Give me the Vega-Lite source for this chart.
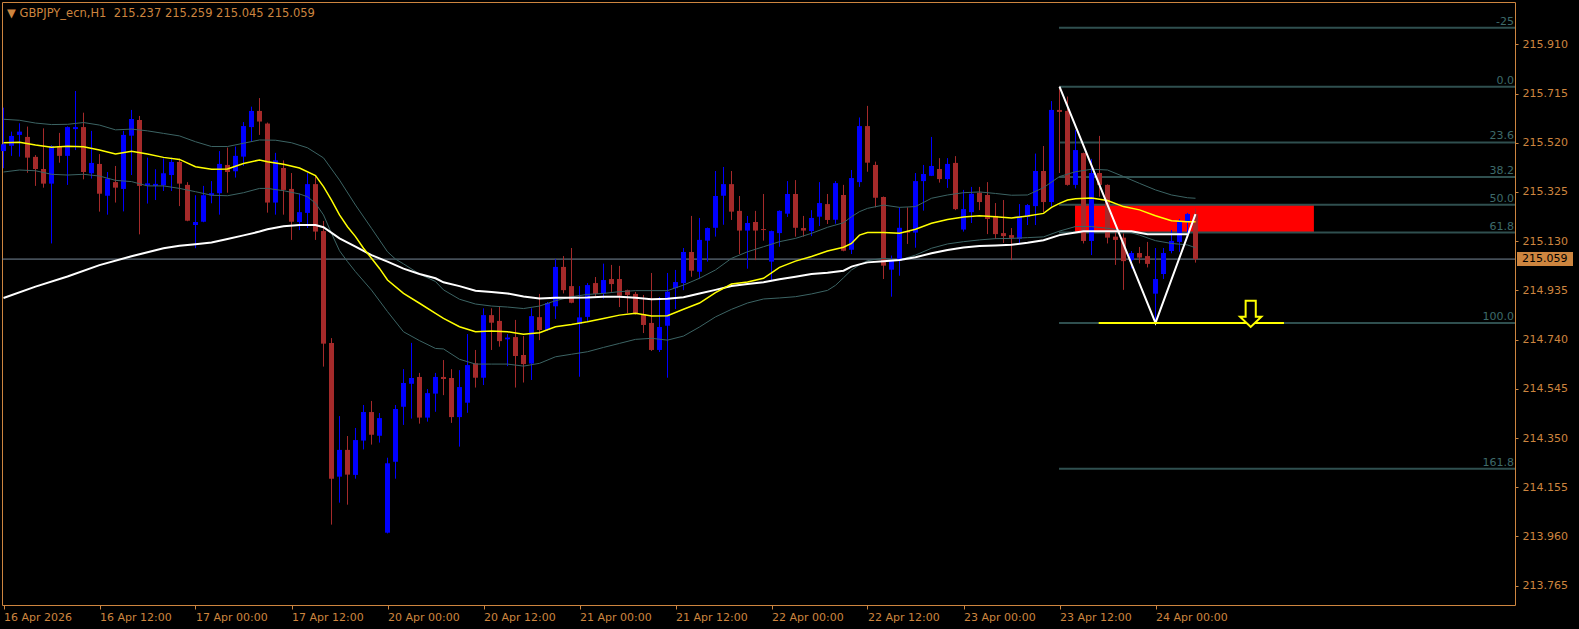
{
  "$schema": "https://vega.github.io/schema/vega-lite/v6.json",
  "width": 1513,
  "height": 603,
  "autosize": "none",
  "padding": {"left": 2, "top": 2, "right": 64, "bottom": 24},
  "background": "#000000",
  "config": {
    "font": "DejaVu Sans",
    "view": {"stroke": "#CD853F", "strokeWidth": 1}
  },
  "resolve": {"axis": {"x": "independent", "y": "independent"}},
  "datasets": {
    "candles": [
      {"i":0,"o":215.487,"h":215.659,"l":215.419,"c":215.514},
      {"i":1,"o":215.508,"h":215.564,"l":215.468,"c":215.547},
      {"i":2,"o":215.551,"h":215.597,"l":215.465,"c":215.564},
      {"i":3,"o":215.543,"h":215.584,"l":215.401,"c":215.461},
      {"i":4,"o":215.464,"h":215.471,"l":215.349,"c":215.416},
      {"i":5,"o":215.416,"h":215.577,"l":215.342,"c":215.358},
      {"i":6,"o":215.358,"h":215.510,"l":215.121,"c":215.507},
      {"i":7,"o":215.507,"h":215.559,"l":215.441,"c":215.468},
      {"i":8,"o":215.468,"h":215.585,"l":215.353,"c":215.582},
      {"i":9,"o":215.574,"h":215.725,"l":215.491,"c":215.582},
      {"i":10,"o":215.582,"h":215.639,"l":215.375,"c":215.404},
      {"i":11,"o":215.399,"h":215.567,"l":215.378,"c":215.440},
      {"i":12,"o":215.436,"h":215.475,"l":215.247,"c":215.318},
      {"i":13,"o":215.310,"h":215.404,"l":215.235,"c":215.378},
      {"i":14,"o":215.364,"h":215.428,"l":215.283,"c":215.342},
      {"i":15,"o":215.337,"h":215.567,"l":215.248,"c":215.551},
      {"i":16,"o":215.548,"h":215.650,"l":215.392,"c":215.614},
      {"i":17,"o":215.610,"h":215.626,"l":215.157,"c":215.349},
      {"i":18,"o":215.351,"h":215.461,"l":215.279,"c":215.359},
      {"i":19,"o":215.349,"h":215.415,"l":215.293,"c":215.357},
      {"i":20,"o":215.351,"h":215.458,"l":215.329,"c":215.399},
      {"i":21,"o":215.392,"h":215.461,"l":215.329,"c":215.444},
      {"i":22,"o":215.444,"h":215.457,"l":215.269,"c":215.358},
      {"i":23,"o":215.353,"h":215.364,"l":215.209,"c":215.211},
      {"i":24,"o":215.194,"h":215.312,"l":215.102,"c":215.206},
      {"i":25,"o":215.207,"h":215.349,"l":215.205,"c":215.312},
      {"i":26,"o":215.312,"h":215.368,"l":215.280,"c":215.320},
      {"i":27,"o":215.320,"h":215.487,"l":215.235,"c":215.436},
      {"i":28,"o":215.432,"h":215.501,"l":215.322,"c":215.404},
      {"i":29,"o":215.407,"h":215.505,"l":215.382,"c":215.468},
      {"i":30,"o":215.465,"h":215.602,"l":215.428,"c":215.586},
      {"i":31,"o":215.582,"h":215.663,"l":215.523,"c":215.646},
      {"i":32,"o":215.646,"h":215.697,"l":215.551,"c":215.604},
      {"i":33,"o":215.596,"h":215.600,"l":215.243,"c":215.283},
      {"i":34,"o":215.283,"h":215.480,"l":215.235,"c":215.450},
      {"i":35,"o":215.420,"h":215.450,"l":215.235,"c":215.333},
      {"i":36,"o":215.337,"h":215.400,"l":215.135,"c":215.207},
      {"i":37,"o":215.206,"h":215.319,"l":215.174,"c":215.245},
      {"i":38,"o":215.242,"h":215.400,"l":215.182,"c":215.356},
      {"i":39,"o":215.356,"h":215.390,"l":215.135,"c":215.168},
      {"i":40,"o":215.170,"h":215.210,"l":214.633,"c":214.724},
      {"i":41,"o":214.727,"h":214.746,"l":214.007,"c":214.189},
      {"i":42,"o":214.197,"h":214.437,"l":214.094,"c":214.303},
      {"i":43,"o":214.303,"h":214.358,"l":214.086,"c":214.205},
      {"i":44,"o":214.204,"h":214.390,"l":214.189,"c":214.342},
      {"i":45,"o":214.340,"h":214.481,"l":214.305,"c":214.453},
      {"i":46,"o":214.453,"h":214.497,"l":214.324,"c":214.363},
      {"i":47,"o":214.359,"h":214.449,"l":214.332,"c":214.429},
      {"i":48,"o":213.975,"h":214.272,"l":213.972,"c":214.250},
      {"i":49,"o":214.256,"h":214.481,"l":214.189,"c":214.465},
      {"i":50,"o":214.474,"h":214.623,"l":214.402,"c":214.568},
      {"i":51,"o":214.565,"h":214.727,"l":214.427,"c":214.588},
      {"i":52,"o":214.592,"h":214.608,"l":214.407,"c":214.431},
      {"i":53,"o":214.431,"h":214.544,"l":214.415,"c":214.528},
      {"i":54,"o":214.526,"h":214.608,"l":214.454,"c":214.592},
      {"i":55,"o":214.592,"h":214.659,"l":214.520,"c":214.584},
      {"i":56,"o":214.588,"h":214.623,"l":214.410,"c":214.433},
      {"i":57,"o":214.433,"h":214.619,"l":214.316,"c":214.552},
      {"i":58,"o":214.490,"h":214.762,"l":214.450,"c":214.639},
      {"i":59,"o":214.646,"h":214.699,"l":214.550,"c":214.589},
      {"i":60,"o":214.589,"h":214.864,"l":214.560,"c":214.837},
      {"i":61,"o":214.837,"h":214.864,"l":214.699,"c":214.807},
      {"i":62,"o":214.814,"h":214.873,"l":214.712,"c":214.734},
      {"i":63,"o":214.741,"h":214.762,"l":214.635,"c":214.748},
      {"i":64,"o":214.750,"h":214.818,"l":214.550,"c":214.675},
      {"i":65,"o":214.679,"h":214.754,"l":214.570,"c":214.643},
      {"i":66,"o":214.645,"h":214.864,"l":214.580,"c":214.833},
      {"i":67,"o":214.829,"h":214.921,"l":214.738,"c":214.778},
      {"i":68,"o":214.778,"h":214.889,"l":214.775,"c":214.885},
      {"i":69,"o":214.872,"h":215.059,"l":214.822,"c":215.028},
      {"i":70,"o":215.028,"h":215.071,"l":214.923,"c":214.936},
      {"i":71,"o":214.952,"h":215.103,"l":214.884,"c":214.886},
      {"i":72,"o":214.802,"h":214.952,"l":214.593,"c":214.828},
      {"i":73,"o":214.830,"h":214.964,"l":214.810,"c":214.956},
      {"i":74,"o":214.964,"h":214.988,"l":214.913,"c":214.921},
      {"i":75,"o":214.923,"h":215.041,"l":214.902,"c":214.976},
      {"i":76,"o":214.980,"h":215.036,"l":214.929,"c":214.960},
      {"i":77,"o":214.980,"h":215.032,"l":214.869,"c":214.914},
      {"i":78,"o":214.936,"h":214.938,"l":214.844,"c":214.917},
      {"i":79,"o":214.921,"h":214.929,"l":214.840,"c":214.841},
      {"i":80,"o":214.841,"h":214.917,"l":214.766,"c":214.798},
      {"i":81,"o":214.806,"h":215.004,"l":214.695,"c":214.699},
      {"i":82,"o":214.699,"h":214.909,"l":214.691,"c":214.790},
      {"i":83,"o":214.795,"h":215.004,"l":214.589,"c":214.930},
      {"i":84,"o":214.944,"h":215.016,"l":214.861,"c":214.968},
      {"i":85,"o":214.964,"h":215.103,"l":214.936,"c":215.087},
      {"i":86,"o":215.087,"h":215.230,"l":214.989,"c":215.013},
      {"i":87,"o":215.009,"h":215.222,"l":214.981,"c":215.135},
      {"i":88,"o":215.132,"h":215.184,"l":215.049,"c":215.182},
      {"i":89,"o":215.183,"h":215.408,"l":215.148,"c":215.309},
      {"i":90,"o":215.310,"h":215.424,"l":215.195,"c":215.356},
      {"i":91,"o":215.356,"h":215.408,"l":215.214,"c":215.247},
      {"i":92,"o":215.250,"h":215.309,"l":215.079,"c":215.172},
      {"i":93,"o":215.172,"h":215.230,"l":215.021,"c":215.202},
      {"i":94,"o":215.206,"h":215.250,"l":215.055,"c":215.172},
      {"i":95,"o":215.178,"h":215.317,"l":215.132,"c":215.174},
      {"i":96,"o":215.049,"h":215.172,"l":214.976,"c":215.170},
      {"i":97,"o":215.162,"h":215.252,"l":215.108,"c":215.250},
      {"i":98,"o":215.239,"h":215.368,"l":215.226,"c":215.317},
      {"i":99,"o":215.317,"h":215.372,"l":215.148,"c":215.183},
      {"i":100,"o":215.182,"h":215.230,"l":215.148,"c":215.172},
      {"i":101,"o":215.170,"h":215.253,"l":215.150,"c":215.222},
      {"i":102,"o":215.227,"h":215.364,"l":215.190,"c":215.281},
      {"i":103,"o":215.277,"h":215.317,"l":215.198,"c":215.214},
      {"i":104,"o":215.215,"h":215.368,"l":215.199,"c":215.360},
      {"i":105,"o":215.313,"h":215.353,"l":215.090,"c":215.092},
      {"i":106,"o":215.096,"h":215.412,"l":215.079,"c":215.380},
      {"i":107,"o":215.364,"h":215.620,"l":215.345,"c":215.586},
      {"i":108,"o":215.586,"h":215.666,"l":215.405,"c":215.441},
      {"i":109,"o":215.432,"h":215.445,"l":215.264,"c":215.302},
      {"i":110,"o":215.305,"h":215.307,"l":214.980,"c":215.033},
      {"i":111,"o":215.017,"h":215.073,"l":214.910,"c":215.055},
      {"i":112,"o":215.053,"h":215.264,"l":214.993,"c":215.183},
      {"i":113,"o":215.170,"h":215.264,"l":215.119,"c":215.164},
      {"i":114,"o":215.164,"h":215.400,"l":215.104,"c":215.368},
      {"i":115,"o":215.368,"h":215.432,"l":215.251,"c":215.396},
      {"i":116,"o":215.389,"h":215.543,"l":215.388,"c":215.428},
      {"i":117,"o":215.416,"h":215.459,"l":215.362,"c":215.376},
      {"i":118,"o":215.376,"h":215.459,"l":215.341,"c":215.436},
      {"i":119,"o":215.440,"h":215.467,"l":215.253,"c":215.257},
      {"i":120,"o":215.176,"h":215.333,"l":215.168,"c":215.257},
      {"i":121,"o":215.245,"h":215.345,"l":215.202,"c":215.318},
      {"i":122,"o":215.322,"h":215.345,"l":215.253,"c":215.285},
      {"i":123,"o":215.313,"h":215.364,"l":215.158,"c":215.218},
      {"i":124,"o":215.230,"h":215.281,"l":215.139,"c":215.158},
      {"i":125,"o":215.162,"h":215.293,"l":215.123,"c":215.150},
      {"i":126,"o":215.154,"h":215.182,"l":215.055,"c":215.143},
      {"i":127,"o":215.139,"h":215.277,"l":215.119,"c":215.230},
      {"i":128,"o":215.226,"h":215.277,"l":215.194,"c":215.273},
      {"i":129,"o":215.269,"h":215.477,"l":215.194,"c":215.408},
      {"i":130,"o":215.408,"h":215.507,"l":215.245,"c":215.285},
      {"i":131,"o":215.285,"h":215.685,"l":215.267,"c":215.650},
      {"i":132,"o":215.650,"h":215.742,"l":215.400,"c":215.642},
      {"i":133,"o":215.646,"h":215.703,"l":215.350,"c":215.353},
      {"i":134,"o":215.353,"h":215.570,"l":215.339,"c":215.491},
      {"i":135,"o":215.479,"h":215.481,"l":215.121,"c":215.131},
      {"i":136,"o":215.131,"h":215.456,"l":215.075,"c":215.400},
      {"i":137,"o":215.400,"h":215.547,"l":215.306,"c":215.353},
      {"i":138,"o":215.353,"h":215.355,"l":215.121,"c":215.144},
      {"i":139,"o":215.148,"h":215.174,"l":215.036,"c":215.135},
      {"i":140,"o":215.144,"h":215.161,"l":214.937,"c":215.051},
      {"i":141,"o":215.055,"h":215.091,"l":215.022,"c":215.083},
      {"i":142,"o":215.083,"h":215.107,"l":215.042,"c":215.065},
      {"i":143,"o":215.071,"h":215.127,"l":215.026,"c":215.040},
      {"i":144,"o":214.922,"h":215.103,"l":214.806,"c":214.980},
      {"i":145,"o":215.000,"h":215.103,"l":214.980,"c":215.083},
      {"i":146,"o":215.091,"h":215.174,"l":215.082,"c":215.131},
      {"i":147,"o":215.127,"h":215.218,"l":215.088,"c":215.207},
      {"i":148,"o":215.207,"h":215.242,"l":215.161,"c":215.238},
      {"i":149,"o":215.237,"h":215.259,"l":215.045,"c":215.059}
    ],
    "yellow": [
      {"i":0,"v":215.520},{"i":2,"v":215.522},{"i":4,"v":215.511},{"i":6,"v":215.502},{"i":8,"v":215.506},{"i":10,"v":215.504},{"i":12,"v":215.491},{"i":14,"v":215.475},{"i":16,"v":215.486},{"i":18,"v":215.475},{"i":20,"v":215.462},{"i":22,"v":215.454},{"i":24,"v":215.425},{"i":26,"v":215.415},{"i":28,"v":215.416},{"i":30,"v":215.438},{"i":32,"v":215.452},{"i":33,"v":215.445},{"i":35,"v":215.435},{"i":37,"v":215.420},{"i":39,"v":215.390},{"i":40,"v":215.346},{"i":41,"v":215.293},{"i":42,"v":215.234},{"i":43,"v":215.187},{"i":44,"v":215.148},{"i":45,"v":215.102},{"i":46,"v":215.062},{"i":47,"v":215.022},{"i":48,"v":214.976},{"i":50,"v":214.923},{"i":52,"v":214.884},{"i":54,"v":214.844},{"i":55,"v":214.824},{"i":57,"v":214.791},{"i":59,"v":214.771},{"i":61,"v":214.774},{"i":63,"v":214.771},{"i":65,"v":214.761},{"i":67,"v":214.767},{"i":69,"v":214.791},{"i":71,"v":214.800},{"i":73,"v":214.811},{"i":75,"v":214.824},{"i":77,"v":214.837},{"i":79,"v":214.844},{"i":81,"v":214.834},{"i":83,"v":214.835},{"i":85,"v":214.860},{"i":87,"v":214.885},{"i":89,"v":214.926},{"i":91,"v":214.960},{"i":93,"v":214.968},{"i":95,"v":214.983},{"i":97,"v":215.026},{"i":99,"v":215.051},{"i":101,"v":215.069},{"i":103,"v":215.091},{"i":105,"v":215.106},{"i":106,"v":215.121},{"i":107,"v":215.154},{"i":108,"v":215.164},{"i":110,"v":215.164},{"i":112,"v":215.161},{"i":114,"v":215.177},{"i":116,"v":215.201},{"i":118,"v":215.216},{"i":120,"v":215.226},{"i":122,"v":215.231},{"i":124,"v":215.227},{"i":126,"v":215.222},{"i":128,"v":215.230},{"i":130,"v":215.240},{"i":131,"v":215.264},{"i":132,"v":215.280},{"i":133,"v":215.293},{"i":134,"v":215.298},{"i":136,"v":215.301},{"i":138,"v":215.291},{"i":140,"v":215.267},{"i":142,"v":215.254},{"i":144,"v":215.231},{"i":146,"v":215.211},{"i":148,"v":215.207},{"i":149,"v":215.207}
    ],
    "white": [
      {"i":0,"v":214.905},{"i":4,"v":214.950},{"i":8,"v":214.990},{"i":12,"v":215.035},{"i":16,"v":215.070},{"i":20,"v":215.102},{"i":22,"v":215.112},{"i":24,"v":215.118},{"i":26,"v":215.125},{"i":28,"v":215.139},{"i":30,"v":215.153},{"i":32,"v":215.168},{"i":33,"v":215.177},{"i":35,"v":215.189},{"i":37,"v":215.194},{"i":39,"v":215.194},{"i":40,"v":215.185},{"i":42,"v":215.141},{"i":44,"v":215.108},{"i":46,"v":215.075},{"i":48,"v":215.049},{"i":50,"v":215.021},{"i":52,"v":215.000},{"i":54,"v":214.983},{"i":55,"v":214.967},{"i":57,"v":214.952},{"i":59,"v":214.934},{"i":61,"v":214.929},{"i":63,"v":214.923},{"i":65,"v":214.911},{"i":67,"v":214.903},{"i":69,"v":214.906},{"i":71,"v":214.906},{"i":73,"v":214.907},{"i":75,"v":214.910},{"i":77,"v":214.910},{"i":79,"v":214.906},{"i":81,"v":214.900},{"i":83,"v":214.902},{"i":85,"v":214.908},{"i":87,"v":214.923},{"i":89,"v":214.937},{"i":91,"v":214.952},{"i":93,"v":214.960},{"i":95,"v":214.967},{"i":97,"v":214.979},{"i":99,"v":214.989},{"i":101,"v":215.000},{"i":103,"v":215.005},{"i":105,"v":215.013},{"i":106,"v":215.029},{"i":107,"v":215.038},{"i":108,"v":215.046},{"i":110,"v":215.050},{"i":112,"v":215.055},{"i":114,"v":215.066},{"i":116,"v":215.082},{"i":118,"v":215.095},{"i":120,"v":215.105},{"i":122,"v":215.111},{"i":124,"v":215.113},{"i":126,"v":215.116},{"i":128,"v":215.124},{"i":130,"v":215.134},{"i":132,"v":215.154},{"i":134,"v":215.164},{"i":135,"v":215.169},{"i":141,"v":215.169},{"i":142,"v":215.163},{"i":143,"v":215.157},{"i":148,"v":215.157}
    ],
    "upper": [
      {"i":0,"v":215.613},{"i":2,"v":215.609},{"i":4,"v":215.598},{"i":6,"v":215.592},{"i":8,"v":215.593},{"i":10,"v":215.600},{"i":12,"v":215.590},{"i":14,"v":215.571},{"i":16,"v":215.574},{"i":18,"v":215.567},{"i":20,"v":215.557},{"i":22,"v":215.547},{"i":24,"v":215.524},{"i":26,"v":215.505},{"i":28,"v":215.505},{"i":30,"v":215.518},{"i":32,"v":215.531},{"i":34,"v":215.530},{"i":36,"v":215.520},{"i":38,"v":215.500},{"i":40,"v":215.460},{"i":42,"v":215.372},{"i":44,"v":215.273},{"i":46,"v":215.181},{"i":48,"v":215.088},{"i":49,"v":215.059},{"i":50,"v":215.040},{"i":52,"v":215.000},{"i":54,"v":214.970},{"i":55,"v":214.937},{"i":57,"v":214.900},{"i":59,"v":214.881},{"i":61,"v":214.873},{"i":63,"v":214.869},{"i":65,"v":214.863},{"i":67,"v":214.873},{"i":69,"v":214.894},{"i":71,"v":214.910},{"i":73,"v":214.919},{"i":75,"v":214.923},{"i":77,"v":214.930},{"i":79,"v":214.934},{"i":81,"v":214.934},{"i":83,"v":214.934},{"i":85,"v":214.956},{"i":87,"v":214.983},{"i":89,"v":215.016},{"i":91,"v":215.062},{"i":93,"v":215.088},{"i":95,"v":215.108},{"i":97,"v":215.128},{"i":99,"v":215.141},{"i":101,"v":215.161},{"i":103,"v":215.185},{"i":105,"v":215.203},{"i":106,"v":215.227},{"i":107,"v":215.247},{"i":108,"v":215.260},{"i":110,"v":215.273},{"i":112,"v":215.264},{"i":114,"v":215.267},{"i":116,"v":215.300},{"i":118,"v":215.313},{"i":120,"v":215.322},{"i":122,"v":215.325},{"i":124,"v":215.319},{"i":126,"v":215.312},{"i":128,"v":215.313},{"i":130,"v":215.342},{"i":132,"v":215.386},{"i":134,"v":215.405},{"i":136,"v":215.415},{"i":138,"v":215.412},{"i":140,"v":215.386},{"i":142,"v":215.359},{"i":144,"v":215.333},{"i":146,"v":215.313},{"i":148,"v":215.302},{"i":149,"v":215.300}
    ],
    "lower": [
      {"i":0,"v":215.404},{"i":2,"v":215.412},{"i":4,"v":215.409},{"i":6,"v":215.395},{"i":8,"v":215.392},{"i":10,"v":215.395},{"i":12,"v":215.388},{"i":14,"v":215.371},{"i":16,"v":215.366},{"i":18,"v":215.349},{"i":20,"v":215.349},{"i":22,"v":215.339},{"i":24,"v":215.326},{"i":26,"v":215.312},{"i":28,"v":215.310},{"i":30,"v":215.322},{"i":32,"v":215.339},{"i":33,"v":215.339},{"i":35,"v":215.330},{"i":37,"v":215.317},{"i":38,"v":215.306},{"i":39,"v":215.280},{"i":40,"v":215.234},{"i":41,"v":215.161},{"i":42,"v":215.092},{"i":43,"v":215.049},{"i":44,"v":215.009},{"i":46,"v":214.936},{"i":48,"v":214.851},{"i":50,"v":214.771},{"i":52,"v":214.736},{"i":54,"v":214.705},{"i":55,"v":214.703},{"i":57,"v":214.662},{"i":59,"v":214.643},{"i":61,"v":214.643},{"i":63,"v":214.643},{"i":65,"v":214.635},{"i":67,"v":214.646},{"i":69,"v":214.672},{"i":71,"v":214.682},{"i":73,"v":214.692},{"i":75,"v":214.709},{"i":77,"v":214.725},{"i":79,"v":214.741},{"i":81,"v":214.745},{"i":83,"v":214.738},{"i":85,"v":214.754},{"i":87,"v":214.790},{"i":89,"v":214.830},{"i":91,"v":214.860},{"i":93,"v":214.885},{"i":95,"v":214.901},{"i":97,"v":214.905},{"i":99,"v":214.910},{"i":101,"v":214.921},{"i":103,"v":214.935},{"i":104,"v":214.955},{"i":105,"v":214.985},{"i":106,"v":215.016},{"i":107,"v":215.036},{"i":108,"v":215.053},{"i":110,"v":215.062},{"i":112,"v":215.055},{"i":114,"v":215.075},{"i":116,"v":215.102},{"i":118,"v":215.119},{"i":120,"v":215.128},{"i":122,"v":215.135},{"i":124,"v":215.140},{"i":126,"v":215.141},{"i":128,"v":215.144},{"i":130,"v":215.147},{"i":132,"v":215.170},{"i":134,"v":215.188},{"i":136,"v":215.188},{"i":138,"v":215.181},{"i":140,"v":215.172},{"i":142,"v":215.154},{"i":144,"v":215.132},{"i":146,"v":215.121},{"i":148,"v":215.115},{"i":149,"v":215.104}
    ],
    "fib": [
      {"level":"-25","price":215.976},
      {"level":"0.0","price":215.742},
      {"level":"23.6","price":215.521},
      {"level":"38.2","price":215.384},
      {"level":"50.0","price":215.274},
      {"level":"61.8","price":215.164},
      {"level":"100.0","price":214.806},
      {"level":"161.8","price":214.228}
    ],
    "zigzag": [
      {"i":132,"v":215.742},
      {"i":144,"v":214.806},
      {"i":149,"v":215.237}
    ]
  },
  "layer": [
    {
      "data": {"name": "candles"},
      "mark": {"type": "bar", "width": 5},
      "encoding": {
        "x": {"field": "i", "type": "quantitative",
          "scale": {"domain": [-0.1875, 188.9375], "nice": false, "zero": false, "padding": 0},
          "axis": {"orient": "bottom", "title": null, "values": [0,12,24,36,48,60,72,84,96,108,120,132,144],
            "labelExpr": "['16 Apr 2026','16 Apr 12:00','17 Apr 00:00','17 Apr 12:00','20 Apr 00:00','20 Apr 12:00','21 Apr 00:00','21 Apr 12:00','22 Apr 00:00','22 Apr 12:00','23 Apr 00:00','23 Apr 12:00','24 Apr 00:00'][round(datum.value/12)]",
            "labelAlign": "left", "labelBaseline": "top", "labelPadding": 2, "tickSize": 4, "tickColor": "#CD853F", "labelColor": "#CD853F",
            "labelFont": "DejaVu Sans", "labelFontSize": 11, "labelFlush": false, "labelOverlap": false, "domain": false, "grid": false}},
        "y": {"field": "o", "type": "quantitative",
          "scale": {"domain": [213.6885, 216.0776], "nice": false, "zero": false, "padding": 0},
          "axis": {"orient": "right", "title": null, "values": [213.765,213.96,214.155,214.35,214.545,214.74,214.935,215.13,215.325,215.52,215.715,215.91],
            "format": ".3f", "tickSize": 3, "labelPadding": 4, "tickColor": "#CD853F", "labelColor": "#CD853F",
            "labelFont": "DejaVu Sans", "labelFontSize": 11, "labelFlush": false, "labelOverlap": false, "domain": false, "grid": false}},
        "y2": {"field": "c"},
        "opacity": {"value": 0}
      }
    },
    {
      "data": {"values": [{"k": 1}]},
      "mark": {"type": "rect", "color": "#FF0000"},
      "encoding": {
        "x": {"datum": 133.94, "type": "quantitative", "axis": null},
        "x2": {"datum": 163.8},
        "y": {"datum": 215.274, "type": "quantitative", "axis": null},
        "y2": {"datum": 215.164}
      }
    },
    {
      "data": {"name": "fib"},
      "mark": {"type": "rule", "color": "#2F4F4F", "strokeWidth": 2},
      "encoding": {
        "x": {"datum": 131.94, "type": "quantitative", "axis": null},
        "x2": {"datum": 188.9375},
        "y": {"field": "price", "type": "quantitative", "axis": null}
      }
    },
    {
      "data": {"name": "fib"},
      "mark": {"type": "text", "color": "#3E6A6A", "align": "right", "baseline": "bottom", "dx": -1, "dy": -1, "fontSize": 11, "font": "DejaVu Sans"},
      "encoding": {
        "x": {"datum": 188.9375, "type": "quantitative", "axis": null},
        "y": {"field": "price", "type": "quantitative", "axis": null},
        "text": {"field": "level"}
      }
    },
    {
      "data": {"values": [{"k": 1}]},
      "mark": {"type": "rule", "color": "#778899", "strokeWidth": 1},
      "encoding": {
        "x": {"datum": -0.1875, "type": "quantitative", "axis": null},
        "x2": {"datum": 188.9375},
        "y": {"datum": 215.059, "type": "quantitative", "axis": null}
      }
    },
    {
      "data": {"name": "candles"},
      "mark": {"type": "rule", "strokeWidth": 1},
      "encoding": {
        "x": {"field": "i", "type": "quantitative", "axis": null},
        "y": {"field": "l", "type": "quantitative", "axis": null},
        "y2": {"field": "h"},
        "color": {"condition": {"test": "datum.c >= datum.o", "value": "#0000FF"}, "value": "#A52A2A"}
      }
    },
    {
      "data": {"name": "candles"},
      "mark": {"type": "bar", "width": 5},
      "encoding": {
        "x": {"field": "i", "type": "quantitative", "axis": null},
        "y": {"field": "o", "type": "quantitative", "axis": null},
        "y2": {"field": "c"},
        "color": {"condition": {"test": "datum.c >= datum.o", "value": "#0000FF"}, "value": "#A52A2A"}
      }
    },
    {
      "data": {"name": "upper"},
      "mark": {"type": "line", "color": "#3C6464", "strokeWidth": 1},
      "encoding": {
        "x": {"field": "i", "type": "quantitative", "axis": null},
        "y": {"field": "v", "type": "quantitative", "axis": null}
      }
    },
    {
      "data": {"name": "lower"},
      "mark": {"type": "line", "color": "#3C6464", "strokeWidth": 1},
      "encoding": {
        "x": {"field": "i", "type": "quantitative", "axis": null},
        "y": {"field": "v", "type": "quantitative", "axis": null}
      }
    },
    {
      "data": {"name": "white"},
      "mark": {"type": "line", "color": "#FFFFFF", "strokeWidth": 2},
      "encoding": {
        "x": {"field": "i", "type": "quantitative", "axis": null},
        "y": {"field": "v", "type": "quantitative", "axis": null}
      }
    },
    {
      "data": {"name": "yellow"},
      "mark": {"type": "line", "color": "#FFFF00", "strokeWidth": 1.5},
      "encoding": {
        "x": {"field": "i", "type": "quantitative", "axis": null},
        "y": {"field": "v", "type": "quantitative", "axis": null}
      }
    },
    {
      "data": {"name": "zigzag"},
      "mark": {"type": "line", "color": "#FFFFFF", "strokeWidth": 2},
      "encoding": {
        "x": {"field": "i", "type": "quantitative", "axis": null},
        "y": {"field": "v", "type": "quantitative", "axis": null}
      }
    },
    {
      "data": {"values": [{"k": 1}]},
      "mark": {"type": "rule", "color": "#FFFF00", "strokeWidth": 2},
      "encoding": {
        "x": {"datum": 136.9, "type": "quantitative", "axis": null},
        "x2": {"datum": 160.06},
        "y": {"datum": 214.806, "type": "quantitative", "axis": null}
      }
    },
    {
      "data": {"values": [{"k": 1}]},
      "mark": {"type": "point", "shape": "M-0.39,-1 L0.39,-1 L0.39,0.22 L0.82,0.22 L0,1 L-0.82,0.22 L-0.39,0.22 Z", "size": 676, "filled": true, "fill": "#000000", "stroke": "#FFFF00", "strokeWidth": 2, "opacity": 1},
      "encoding": {
        "x": {"datum": 155.9, "type": "quantitative", "axis": null},
        "y": {"datum": 214.842, "type": "quantitative", "axis": null}
      }
    },
    {
      "data": {"values": [{"k": 1}]},
      "mark": {"type": "rect", "color": "#CD853F", "xOffset": 2, "x2Offset": 58, "yOffset": -7, "y2Offset": 7},
      "encoding": {
        "x": {"datum": 188.9375, "type": "quantitative", "axis": null},
        "x2": {"datum": 188.9375},
        "y": {"datum": 215.059, "type": "quantitative", "axis": null},
        "y2": {"datum": 215.059}
      }
    },
    {
      "data": {"values": [{"k": 1}]},
      "mark": {"type": "text", "color": "#000000", "align": "left", "baseline": "middle", "dx": 7, "fontSize": 11, "font": "DejaVu Sans"},
      "encoding": {
        "x": {"datum": 188.9375, "type": "quantitative", "axis": null},
        "y": {"datum": 215.059, "type": "quantitative", "axis": null},
        "text": {"value": "215.059"}
      }
    },
    {
      "data": {"values": [{"k": 1}]},
      "mark": {"type": "text", "color": "#CD853F", "align": "left", "baseline": "alphabetic", "dx": 5, "dy": 15, "fontSize": 11.5, "font": "DejaVu Sans"},
      "encoding": {
        "x": {"datum": -0.1875, "type": "quantitative", "axis": null},
        "y": {"datum": 216.0776, "type": "quantitative", "axis": null},
        "text": {"value": "▼ GBPJPY_ecn,H1\u00a0 215.237 215.259 215.045 215.059"}
      }
    }
  ]
}
